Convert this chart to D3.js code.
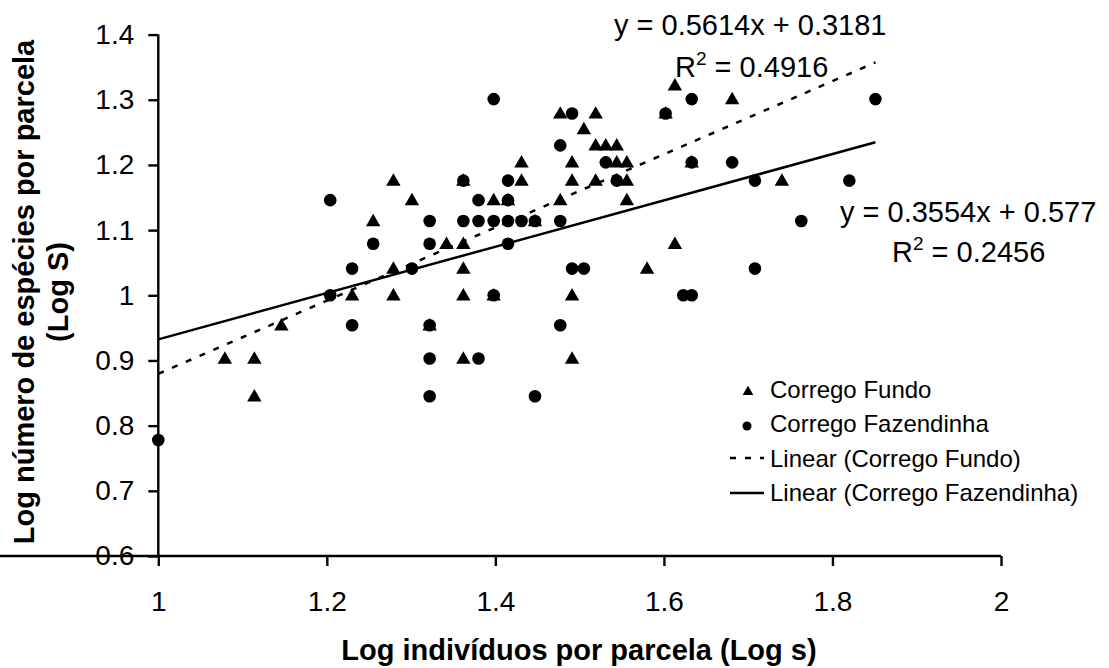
<!DOCTYPE html>
<html><head><meta charset="utf-8">
<script src="https://cdn.jsdelivr.net/npm/d3@7"></script>
<style>
body{margin:0;background:#fff;}
svg{display:block;font-family:"Liberation Sans",Arial,sans-serif;}
</style></head>
<body><svg id="c" width="1109" height="668"></svg>
<script>
// Corrego Fundo (triangles): [log individuals, log species]
const fundoX = [1.079,1.114,1.114,1.146,1.230,1.255,1.279,1.279,1.279,1.301,1.322,1.342,1.362,1.362,1.362,1.362,1.362,1.398,1.398,1.415,1.431,1.431,1.447,1.477,1.477,1.491,1.491,1.491,1.491,1.505,1.519,1.519,1.519,1.531,1.544,1.544,1.556,1.556,1.556,1.580,1.602,1.613,1.613,1.633,1.681,1.740];
const fundoY = [0.903,0.903,0.845,0.954,1.000,1.114,1.176,1.041,1.000,1.146,0.954,1.079,1.176,1.079,1.041,1.000,0.903,1.146,1.000,1.146,1.176,1.204,1.114,1.279,1.146,1.204,1.176,1.000,0.903,1.255,1.279,1.230,1.176,1.230,1.230,1.204,1.204,1.176,1.146,1.041,1.279,1.322,1.079,1.204,1.301,1.176];
// Corrego Fazendinha (circles)
const fazX = [1.000,1.204,1.204,1.230,1.230,1.255,1.301,1.322,1.322,1.322,1.322,1.322,1.362,1.362,1.380,1.380,1.380,1.398,1.398,1.398,1.415,1.415,1.415,1.415,1.431,1.447,1.447,1.477,1.477,1.477,1.491,1.491,1.505,1.531,1.544,1.602,1.623,1.633,1.633,1.633,1.681,1.708,1.708,1.763,1.820,1.851];
const fazY = [0.778,1.146,1.000,1.041,0.954,1.079,1.041,1.114,1.079,0.954,0.903,0.845,1.176,1.114,1.146,1.114,0.903,1.301,1.114,1.000,1.176,1.146,1.114,1.079,1.114,1.114,0.845,1.230,1.114,0.954,1.279,1.041,1.041,1.204,1.176,1.279,1.000,1.301,1.204,1.000,1.204,1.176,1.041,1.114,1.176,1.301];
// trendlines [slope, intercept], x-range
const trendFundo = [0.5614, 0.3181];
const trendFaz = [0.3554, 0.577];
const trendRange = [1.0, 1.851];
const xTicks = [1,1.2,1.4,1.6,1.8,2];
const yTicks = [0.6,0.7,0.8,0.9,1,1.1,1.2,1.3,1.4];
const legendLabels = ["Corrego Fundo","Corrego Fazendinha","Linear (Corrego Fundo)","Linear (Corrego Fazendinha)"];

const svg = d3.select("#c");
const x = d3.scaleLinear().domain([1,2]).range([158.3,1001]);
const y = d3.scaleLinear().domain([0.6,1.4]).range([556,34.6]);

// axes
const xa = svg.append("g").attr("transform","translate(0,556)")
  .call(d3.axisBottom(x).tickValues(xTicks).tickFormat(d3.format("")).tickSizeOuter(0).tickSize(10).tickPadding(25));
const ya = svg.append("g").attr("transform","translate(158.3,0)")
  .call(d3.axisLeft(y).tickValues(yTicks).tickFormat(d3.format("")).tickSizeOuter(0).tickSize(10).tickPadding(14));
[xa,ya].forEach(a=>{
  a.selectAll("path,line").attr("stroke","#000").attr("stroke-width",2.4);
  a.selectAll("text").attr("fill","#000").style("font-size","28px").style("font-family","'Liberation Sans',Arial,sans-serif");
});
ya.select(".domain").attr("d","M0,556V34.6");
xa.select(".domain").attr("d","M0,0H1001");

// markers
const tri = d3.symbol().type(d3.symbolTriangle).size(90);
svg.append("g").selectAll("path").data(fundoX.map((v,i)=>[v,fundoY[i]])).join("path")
  .attr("d",tri).attr("transform",d=>`translate(${x(d[0])},${y(d[1])+1})`).attr("fill","#000");
svg.append("g").selectAll("circle").data(fazX.map((v,i)=>[v,fazY[i]])).join("circle")
  .attr("cx",d=>x(d[0])).attr("cy",d=>y(d[1])).attr("r",6.3).attr("fill","#000");

// trendlines
function tl(t,dash){
  const pts = trendRange.map(v=>[x(v),y(t[0]*v+t[1])]);
  const p = svg.append("path").attr("d",d3.line()(pts)).attr("stroke","#000").attr("stroke-width",2.5).attr("fill","none");
  if(dash) p.attr("stroke-dasharray","6,9");
}
tl(trendFundo,true);
tl(trendFaz,false);

// equations
function eq(xp,yp,eqText,r2x,r2y,r2){
  svg.append("text").attr("x",xp).attr("y",yp).style("font-size","29px").text(eqText);
  const t = svg.append("text").attr("x",r2x).attr("y",r2y).style("font-size","29px");
  t.append("tspan").text("R");
  t.append("tspan").attr("dy",-12).style("font-size","19px").text("2");
  t.append("tspan").attr("dy",12).text(" = "+r2);
}
eq(614,35,"y = 0.5614x + 0.3181",675,77,"0.4916");
eq(840,222,"y = 0.3554x + 0.577",892,262,"0.2456");

// legend
const lg = svg.append("g");
const ly = [392,426,461,495];
lg.append("path").attr("d",d3.symbol().type(d3.symbolTriangle).size(50)).attr("transform",`translate(748,${ly[0]})`);
lg.append("circle").attr("cx",747).attr("cy",ly[1]).attr("r",4.5);
lg.append("line").attr("x1",730).attr("x2",764).attr("y1",ly[2]-3).attr("y2",ly[2]-3).attr("stroke","#000").attr("stroke-width",2.5).attr("stroke-dasharray","6,9");
lg.append("line").attr("x1",730).attr("x2",764).attr("y1",ly[3]-2).attr("y2",ly[3]-2).attr("stroke","#000").attr("stroke-width",2.5);
legendLabels.forEach((s,i)=>{
  lg.append("text").attr("x",770).attr("y",ly[i]+6).style("font-size","24px").text(s);
});

// axis titles
svg.append("text").attr("x",579).attr("y",660).attr("text-anchor","middle").style("font-size","29px").style("font-weight","bold").text("Log indivíduos por parcela (Log s)");
const yt = svg.append("text").attr("transform","translate(0,292) rotate(-90)").attr("text-anchor","middle").style("font-size","29px").style("font-weight","bold");
yt.append("tspan").attr("x",0).attr("y",34).text("Log número de espécies por parcela");
yt.append("tspan").attr("x",0).attr("y",68).text("(Log S)");
</script></body></html>
